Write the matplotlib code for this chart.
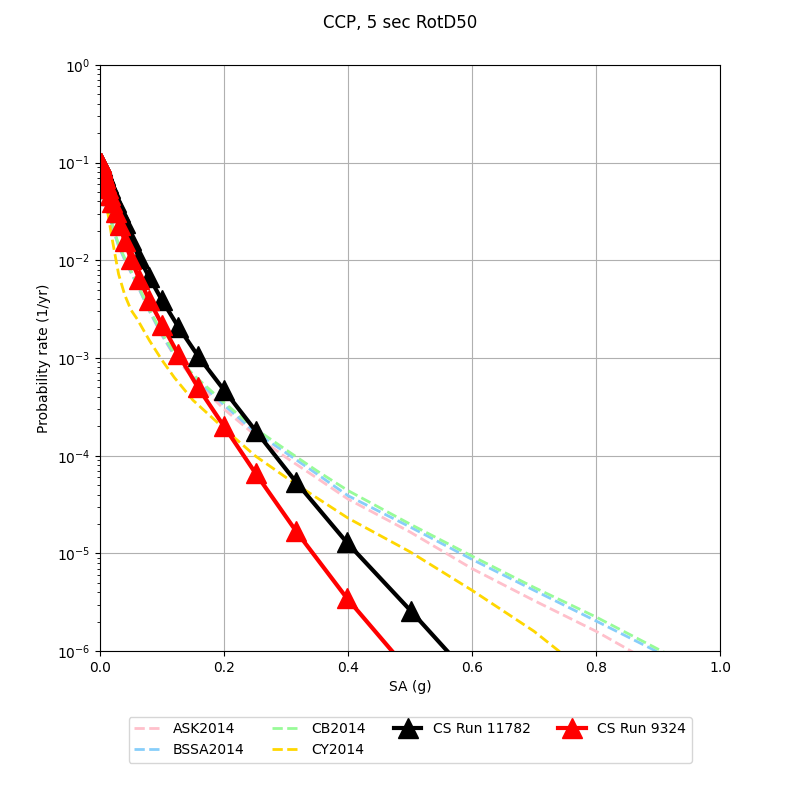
import matplotlib
matplotlib.use('Agg')
import matplotlib.pyplot as plt

# GMPE hazard curves
gmpe_sa = [0.001, 0.005, 0.01, 0.02, 0.03, 0.04, 0.05, 0.06, 0.08, 0.1, 0.12, 0.15,
           0.2, 0.25, 0.3, 0.35, 0.4, 0.5, 0.6, 0.7, 0.8, 0.9, 1.0]
ask2014 = [0.095, 0.065, 0.044, 0.022, 0.014, 0.0101, 0.0075, 0.0056, 0.003, 0.0017, 0.00105, 0.00062,
           0.0003, 0.000163, 0.000096, 0.000059, 0.000036, 1.66e-5, 7.0e-6, 3.3e-6, 1.6e-6, 7.0e-7, 3.0e-7]
bssa2014 = [0.095, 0.065, 0.044, 0.022, 0.014, 0.0101, 0.0075, 0.0056, 0.003, 0.00172, 0.00107, 0.00065,
            0.00033, 0.000175, 0.000107, 0.000065, 0.000039, 1.87e-5, 8.7e-6, 4.2e-6, 2.04e-6, 9.8e-7, 4.5e-7]
cb2014 = [0.095, 0.065, 0.045, 0.023, 0.0145, 0.0105, 0.0078, 0.0058, 0.0031, 0.0018, 0.00112, 0.00068,
          0.00035, 0.00019, 0.000115, 0.00007, 0.000044, 2.0e-5, 9.4e-6, 4.5e-6, 2.24e-6, 1.05e-6, 5.0e-7]
cy2014 = [0.09, 0.06, 0.038, 0.016, 0.0072, 0.0044, 0.0031, 0.0025, 0.0015, 0.00095, 0.00063, 0.00037,
          0.00019, 0.0001, 0.00006, 0.000037, 0.000023, 1.04e-5, 4.2e-6, 1.6e-6, 5.0e-7, 1.2e-7, 2.5e-8]

# CyberShake runs
cs_sa = [0.001, 0.00126, 0.00158, 0.002, 0.00251, 0.00316, 0.00398, 0.00501, 0.00631, 0.00794,
         0.01, 0.0126, 0.0158, 0.02, 0.0251, 0.0316, 0.0398, 0.0501, 0.0631, 0.0794,
         0.1, 0.126, 0.158, 0.2, 0.251, 0.316, 0.398, 0.501, 0.631]
run_11782 = [0.1, 0.099, 0.097, 0.095, 0.093, 0.09, 0.087, 0.083, 0.079, 0.074,
             0.068, 0.062, 0.055, 0.047, 0.039, 0.031, 0.024, 0.0163, 0.0106, 0.0067,
             0.0039, 0.0021, 0.00105, 0.00047, 0.00018, 5.4e-5, 1.3e-5, 2.6e-6, 3.2e-7]
run_9324 = [0.1, 0.098, 0.096, 0.094, 0.091, 0.088, 0.084, 0.08, 0.075, 0.069,
            0.062, 0.055, 0.047, 0.039, 0.031, 0.023, 0.0158, 0.0102, 0.0065, 0.0039,
            0.0022, 0.0011, 0.0005, 0.0002, 6.6e-5, 1.7e-5, 3.5e-6, 6.0e-7]

fig, ax = plt.subplots(figsize=(8, 8), dpi=100)
fig.subplots_adjust(left=0.125, right=0.9, top=0.919, bottom=0.186)

ax.plot(gmpe_sa, ask2014, '--', color='pink', lw=2, label='ASK2014')
ax.plot(gmpe_sa, bssa2014, '--', color='lightskyblue', lw=2, label='BSSA2014')
ax.plot(gmpe_sa, cb2014, '--', color='palegreen', lw=2, label='CB2014')
ax.plot(gmpe_sa, cy2014, '--', color='gold', lw=2, label='CY2014')
ax.plot(cs_sa, run_11782, '-^', color='black', lw=3, markersize=15, label='CS Run 11782')
ax.plot(cs_sa[:len(run_9324)], run_9324, '-^', color='red', lw=3, markersize=15, label='CS Run 9324')

ax.set_yscale('log')
ax.set_xlim(0, 1)
ax.set_ylim(1e-6, 1)
ax.grid(True, which='major')
ax.set_xlabel('SA (g)')
ax.set_ylabel('Probability rate (1/yr)')
fig.suptitle('CCP, 5 sec RotD50', y=0.982)
ax.legend(loc='upper center', bbox_to_anchor=(0.5, -0.1), ncol=4)

fig.savefig('out.png')
